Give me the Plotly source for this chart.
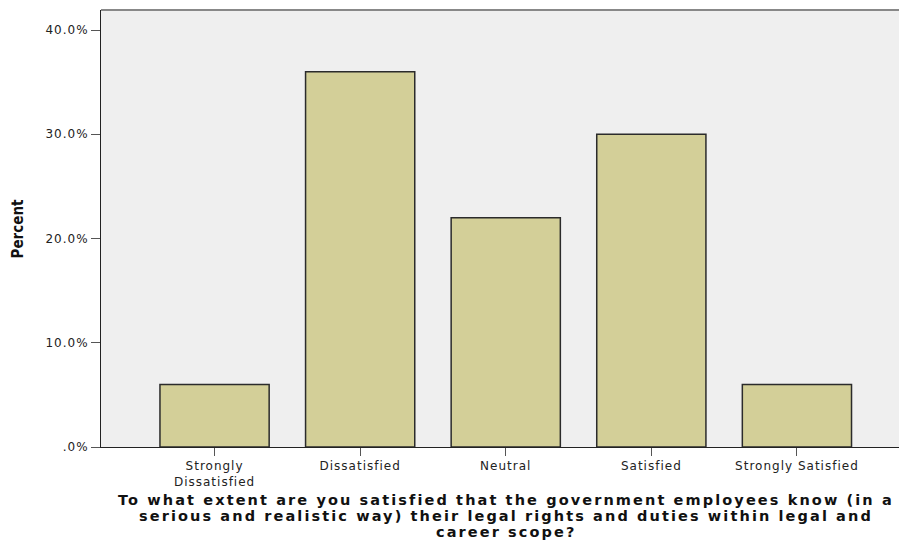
import plotly.graph_objects as go

categories = ["Strongly<br>Dissatisfied", "Dissatisfied", "Neutral", "Satisfied", "Strongly Satisfied"]
percent = [6.0, 36.0, 22.0, 30.0, 6.0]
y_tick_vals = [0, 10, 20, 30, 40]
y_tick_text = [".0%", "10.0%", "20.0%", "30.0%", "40.0%"]
x_title_lines = [
    "To what extent are you satisfied that the government employees know (in a",
    "serious and realistic way) their legal rights and duties within legal and",
    "career scope?",
]
y_title = "Percent"


def spaced(text, px):
    return "<br>".join('<span style="letter-spacing:%spx">%s</span>' % (px, t) for t in text.split("<br>"))


fig = go.Figure(go.Bar(
    x=list(range(len(categories))), y=percent, width=0.75,
    marker=dict(color="#d3cf98", line=dict(color="#2b2b2b", width=1.5)),
))

tick_font = dict(family="DejaVu Sans", size=12, color="#222")
title_font = dict(family="DejaVu Sans", size=14.5, color="#111")

annotations = []
for line_text, ypos in zip(x_title_lines, [-0.1213, -0.1579, -0.1945]):
    annotations.append(dict(text="<b>" + spaced(line_text, 2.1) + "</b>", xref="paper", yref="paper",
                            x=0.498, y=ypos, xanchor="center", yanchor="middle",
                            showarrow=False, font=title_font))
annotations.append(dict(text="<b>" + y_title + "</b>", xref="paper", yref="paper",
                        x=-0.102, y=0.5, xanchor="center", yanchor="middle", textangle=-90,
                        showarrow=False,
                        font=dict(family="DejaVu Sans Condensed, DejaVu Sans", size=15, color="#111")))

fig.update_layout(
    width=907, height=533,
    margin=dict(l=93, r=0, t=2, b=94, autoexpand=False),
    paper_bgcolor="white", plot_bgcolor="#efefef",
    showlegend=False,
    xaxis=dict(
        range=[-0.78, 4.811], tickvals=list(range(len(categories))),
        ticktext=[spaced(c, 1) for c in categories],
        ticks="outside", ticklen=8, tickcolor="#555", showgrid=False, zeroline=False,
        showline=True, linecolor="#222", linewidth=1, tickfont=tick_font, automargin=False,
    ),
    yaxis=dict(
        range=[0, 41.92], tickvals=y_tick_vals, ticktext=[spaced(t, 1) for t in y_tick_text],
        ticks="outside", ticklen=9, tickcolor="#555", showgrid=False, zeroline=False,
        showline=True, linecolor="#222", linewidth=1, tickfont=tick_font, automargin=False,
    ),
    shapes=[dict(type="line", xref="paper", yref="paper", x0=0, x1=1, y0=1, y1=1,
                 line=dict(color="#888", width=2))],
    annotations=annotations,
)

fig.write_html("out.html")
